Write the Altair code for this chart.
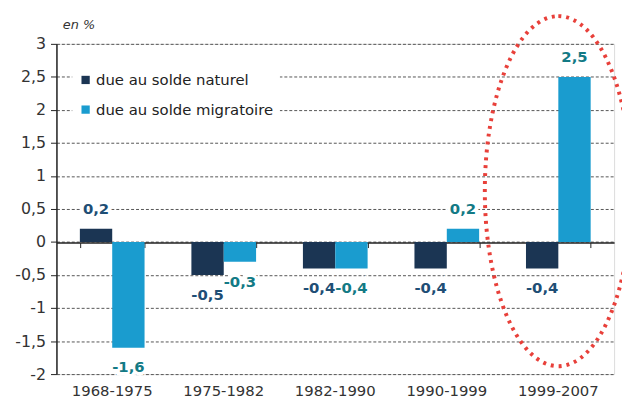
import altair as alt
import pandas as pd

periods = ["1968-1975", "1975-1982", "1982-1990", "1990-1999", "1999-2007"]
series = ["due au solde naturel", "due au solde migratoire"]
naturel = [0.2, -0.5, -0.4, -0.4, -0.4]
migratoire = [-1.6, -0.3, -0.4, 0.2, 2.5]

rows = []
for p, n, m in zip(periods, naturel, migratoire):
    rows.append({"periode": p, "serie": series[0], "valeur": n})
    rows.append({"periode": p, "serie": series[1], "valeur": m})
df = pd.DataFrame(rows)
df["label"] = df["valeur"].map(lambda v: f"{v:.1f}".replace(".", ","))

highlight = pd.DataFrame({"periode": ["1999-2007"], "valeur": [0.77]})
zero = pd.DataFrame({"periode": periods, "valeur": [0] * len(periods)})

bar_colors = ["#1b3553", "#1a9ccf"]
label_colors = ["#1e4e75", "#137a85"]
FONT = "DejaVu Sans"

xscale = alt.Scale(domain=periods, paddingInner=0.42, paddingOuter=0.21)
yscale = alt.Scale(domain=[-2, 3], nice=False)
off_scale = alt.Scale(domain=series, paddingInner=0)

x_axis = alt.Axis(orient="bottom", title=None, ticks=False, domain=False,
                  labelAngle=0, labelFont=FONT, labelFontSize=15,
                  labelFontWeight="normal",
                  labelColor="#333", labelPadding=10)
y_axis = alt.Axis(values=[-2, -1.5, -1, -0.5, 0, 0.5, 1, 1.5, 2, 2.5, 3],
                  labelExpr="replace('' + datum.value, '.', ',')",
                  labelFont=FONT, labelFontSize=16, labelColor="#333",
                  labelFontWeight="normal",
                  domainColor="#222", domainWidth=1.5,
                  tickColor="#222", tickSize=6, labelPadding=5,
                  gridColor="#555", gridDash=[3, 2], gridWidth=1,
                  title="en %", titleAngle=0, titleX=6, titleY=-13,
                  titleFont=FONT, titleFontSize=13, titleFontWeight="normal",
                  titleFontStyle="italic", titleColor="#333", titleAlign="left")


def xn():
    return alt.X("periode:N", scale=xscale, sort=periods, axis=None)


def ym():
    return alt.Y("valeur:Q", scale=yscale, axis=y_axis)


bars = alt.Chart(df).mark_bar().encode(
    x=alt.X("periode:N", scale=xscale, sort=periods, axis=x_axis),
    xOffset=alt.XOffset("serie:N", sort=series, scale=off_scale),
    y=ym(),
    color=alt.Color("serie:N", sort=series,
                    scale=alt.Scale(domain=series, range=bar_colors),
                    legend=alt.Legend(title=None, orient="none", legendX=16, legendY=23,
                                      symbolType="square", symbolSize=70,
                                      labelFont=FONT, labelFontSize=15, labelColor="#222",
                                      labelOffset=3, rowPadding=14, fillColor="white",
                                      padding=6, labelLimit=300)),
)


def text_layer(positive, halo):
    props = dict(fontSize=15, fontWeight="bold", font=FONT, baseline="middle",
                 dy=-20 if positive else 20)
    if halo:
        props.update(stroke="white", strokeWidth=7)
    enc = dict(
        x=xn(),
        xOffset=alt.XOffset("serie:N", sort=series, scale=off_scale),
        y=ym(),
        text="label:N",
    )
    if not halo:
        enc["color"] = alt.Color("serie:N", sort=series,
                                 scale=alt.Scale(domain=series, range=label_colors),
                                 legend=None)
    cond = "datum.valeur >= 0" if positive else "datum.valeur < 0"
    return alt.Chart(df).transform_filter(cond).mark_text(**props).encode(**enc)


# zero line with small ticks at category boundaries
zero_rule = alt.Chart(zero).mark_tick(opacity=0).encode(
    x=alt.X("periode:N", scale=xscale, sort=periods,
            axis=alt.Axis(orient="bottom", offset=-133, labels=False, ticks=True,
                          tickBand="extent", tickSize=5, tickColor="#222",
                          domain=True, domainColor="#222", domainWidth=1.5,
                          grid=False, title=None)),
    y=ym(),
)

ellipse = alt.Chart(highlight).mark_point(
    shape="M0,-1 A0.42,1 0 1,1 0,1 A0.42,1 0 1,1 0,-1 Z",
    size=354 * 354, filled=False, stroke="#e8403a", strokeWidth=4,
    strokeDash=[3, 5], opacity=1,
).encode(x=xn(), y=ym())

chart = alt.layer(
    bars, zero_rule,
    text_layer(True, True), text_layer(False, True),
    text_layer(True, False), text_layer(False, False),
    ellipse,
).resolve_scale(color="independent").resolve_axis(x="independent").properties(
    width=564, height=334,
    autosize=alt.AutoSizeParams(type="none"),
    padding={"left": 49, "top": 34, "right": 8, "bottom": 30},
).configure_view(stroke="#555", strokeWidth=1).configure(background="white")

chart.save("out.html", embed_options={"renderer": "svg", "actions": False})
